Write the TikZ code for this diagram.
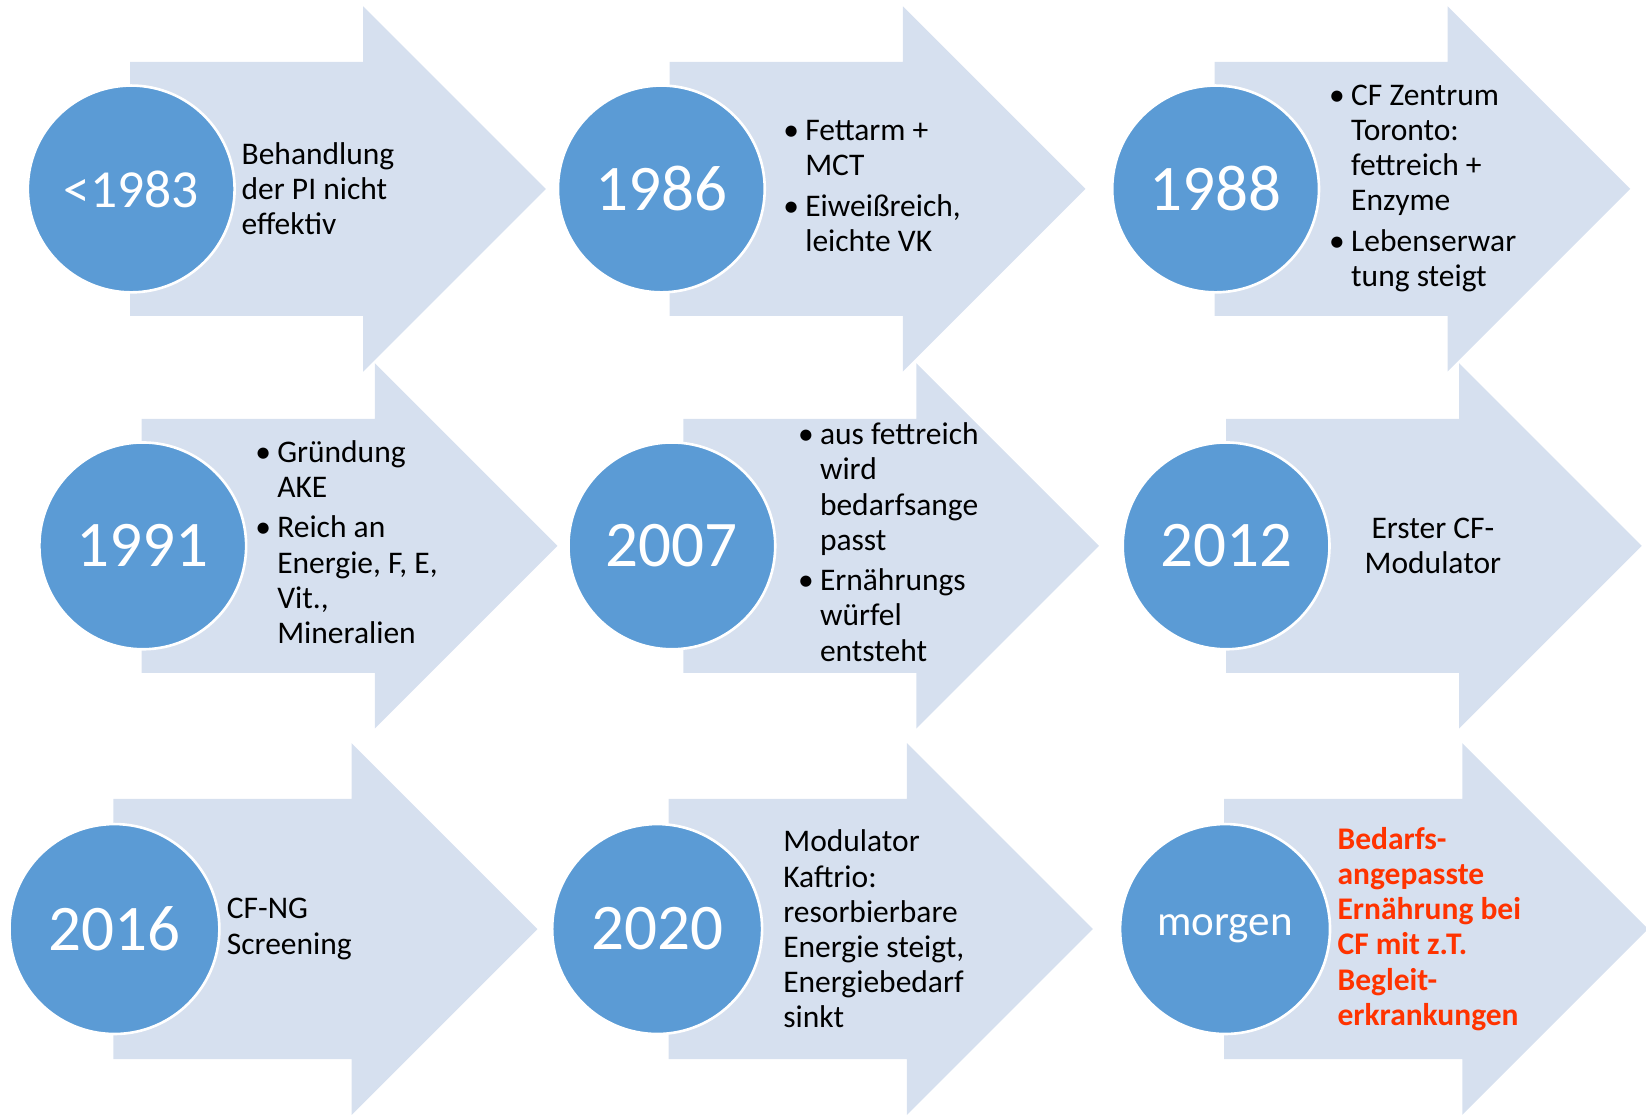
\documentclass[tikz,border=0pt]{standalone}
\usepackage{fontspec}
\setmainfont{Carlito}
\definecolor{arrowfill}{HTML}{D6E0EF}
\definecolor{circfill}{HTML}{5B9BD5}
\definecolor{hotred}{HTML}{FF3300}
\newcommand{\tlarrow}[5]{% #1 shaft left, #2 head base, #3 centre y, #4 shaft half height, #5 head half height
  \fill[arrowfill] (#1,#3-#4) -- (#2,#3-#4) -- (#2,#3-#5) -- (#2+#5,#3) -- (#2,#3+#5) -- (#2,#3+#4) -- (#1,#3+#4) -- cycle;}
\begin{document}
\begin{tikzpicture}[x=1pt,y=-1pt,
  yearnode/.style={circle, minimum size=197pt, inner sep=0pt, fill=circfill, draw=white, line width=2.5pt, text=white, font=\fontsize{62}{70}\selectfont},
  bodytext/.style={anchor=west, inner sep=0pt, align=left, font=\fontsize{30}{33.5}\selectfont},
  redtext/.style={bodytext, text=hotred, font=\fontsize{30}{33.5}\selectfont\bfseries}]
\useasboundingbox (0,0) rectangle (1568,1064);
% arrows
\tlarrow{124}{346}{180}{121}{174}
\tlarrow{638}{860}{180}{121}{174}
\tlarrow{1157}{1379}{180}{121}{174}
\tlarrow{135}{357}{520}{121}{174}
\tlarrow{651}{873}{520}{121}{174}
\tlarrow{1168}{1390}{520}{121}{174}
\tlarrow{108}{335}{885}{124}{177}
\tlarrow{637}{864}{885}{124}{177}
\tlarrow{1166}{1393}{885}{124}{177}
% circles
\node[yearnode, font=\fontsize{51}{60}\selectfont] (c1) at (125,180) {<1983};
\node[yearnode] (c2) at (630,180) {1986};
\node[yearnode] (c3) at (1158,180) {1988};
\node[yearnode] (c4) at (136,520) {1991};
\node[yearnode] (c5) at (640,520) {2007};
\node[yearnode] (c6) at (1168,520) {2012};
\node[yearnode, minimum size=200pt] (c7) at (109,885) {2016};
\node[yearnode, minimum size=200pt] (c8) at (626,885) {2020};
\node[yearnode, minimum size=200pt, font=\fontsize{41}{48}\selectfont] (c9) at (1167,885) {morgen};
% texts
\node[bodytext] (t1) at (230,180) {Behandlung\\der PI nicht\\effektiv};
\node[bodytext] (t2) at (746,180) {\begin{tabular}{@{}l@{\hspace{6pt}}l@{}}
• & Fettarm +\\ & MCT\\[5pt]
• & Eiweißreich,\\ & leichte VK\end{tabular}};
\node[bodytext] (t3) at (1266,180) {\begin{tabular}{@{}l@{\hspace{6pt}}l@{}}
• & CF Zentrum\\ & Toronto:\\ & fettreich +\\ & Enzyme\\[5pt]
• & Lebenserwar\\ & tung steigt\end{tabular}};
\node[bodytext] (t4) at (243,520) {\begin{tabular}{@{}l@{\hspace{6pt}}l@{}}
• & Gründung\\ & AKE\\[5pt]
• & Reich an\\ & Energie, F, E,\\ & Vit.,\\ & Mineralien\end{tabular}};
\node[bodytext] (t5) at (760,520) {\begin{tabular}{@{}l@{\hspace{6pt}}l@{}}
• & aus fettreich\\ & wird\\ & bedarfsange\\ & passt\\[5pt]
• & Ernährungs\\ & würfel\\ & entsteht\end{tabular}};
\node[bodytext, anchor=center, align=center] (t6) at (1365,520) {Erster CF-\\Modulator};
\node[bodytext] (t7) at (216,885) {CF-NG\\Screening};
\node[bodytext] (t8) at (746,885) {Modulator\\Kaftrio:\\resorbierbare\\Energie steigt,\\Energiebedarf\\sinkt};
\node[redtext] (t9) at (1274,885) {Bedarfs-\\angepasste\\Ernährung bei\\CF mit z.T.\\Begleit-\\erkrankungen};
\end{tikzpicture}
\end{document}
